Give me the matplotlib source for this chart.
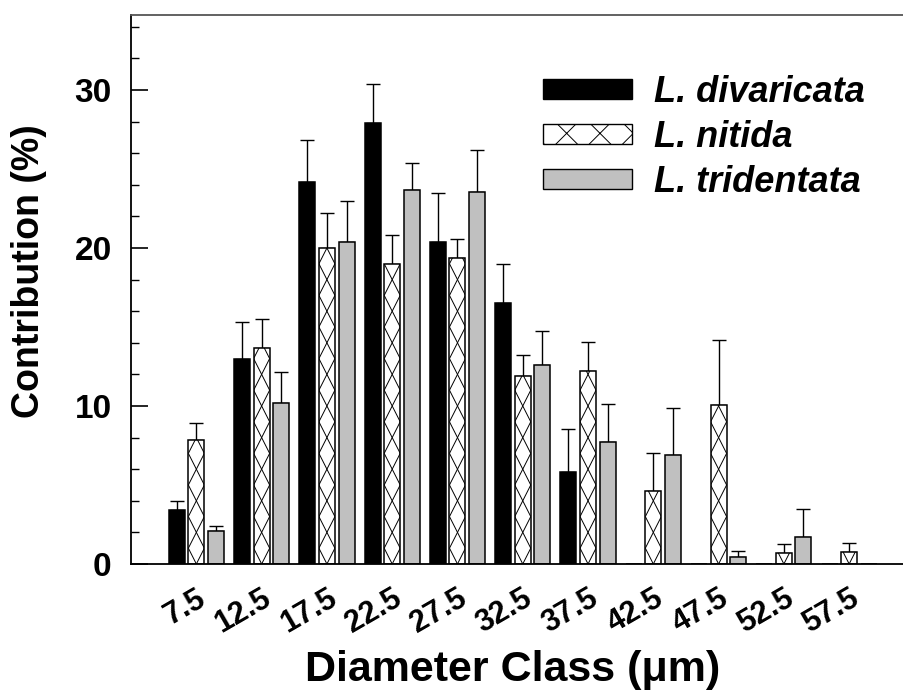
import matplotlib
matplotlib.use("Agg")
import matplotlib.pyplot as plt
from matplotlib.patches import Patch
from matplotlib.collections import LineCollection
from matplotlib.transforms import ScaledTranslation
import numpy as np

plt.rcParams["font.family"] = ["Liberation Sans", "DejaVu Sans"]
plt.rcParams["hatch.linewidth"] = 0.7

# diameter classes (µm) and mean contribution (%) with upper SE per species
classes = ["7.5", "12.5", "17.5", "22.5", "27.5", "32.5", "37.5", "42.5", "47.5", "52.5", "57.5"]
divaricata = [3.4, 13.0, 24.2, 27.9, 20.4, 16.5, 5.8, 0.0, 0.0, 0.0, 0.0]
divaricata_err = [0.6, 2.3, 2.65, 2.5, 3.1, 2.5, 2.75, 0.0, 0.0, 0.0, 0.0]
nitida = [7.85, 13.7, 20.0, 19.0, 19.35, 11.9, 12.2, 4.6, 10.05, 0.68, 0.74]
nitida_err = [1.1, 1.8, 2.2, 1.85, 1.2, 1.3, 1.85, 2.45, 4.15, 0.6, 0.6]
tridentata = [2.1, 10.2, 20.4, 23.7, 23.55, 12.6, 7.75, 6.9, 0.42, 1.7, 0.0]
tridentata_err = [0.3, 1.95, 2.6, 1.7, 2.65, 2.15, 2.4, 2.95, 0.4, 1.75, 0.0]

series = [
    ("L. divaricata", divaricata, divaricata_err, "black", False),
    ("L. nitida", nitida, nitida_err, "white", True),
    ("L. tridentata", tridentata, tridentata_err, "#c0c0c0", False),
]


def cross_hatch(ax, bar, cell=2.0):
    """Tall X pattern inside a bar, one cross per `cell` data units."""
    x0, x1 = bar.get_x(), bar.get_x() + bar.get_width()
    h = bar.get_height()
    segs = []
    for c in np.arange(-1.0, h + 1.0, cell):
        segs.append([(x0, c), (x1, c + cell)])
        segs.append([(x0, c + cell), (x1, c)])
    lc = LineCollection(segs, colors="black", linewidths=0.7, zorder=2.5)
    ax.add_collection(lc)
    lc.set_clip_path(bar)


fig = plt.figure(figsize=(9.04, 6.92), dpi=100)
ax = fig.add_axes([0.145, 0.185, 0.855, 0.7934])

x = np.arange(len(classes))
width, stride = 0.245, 0.3
handles = []
for k, (name, vals, errs, color, hatched) in enumerate(series):
    pos = x + (k - 1) * stride
    vals = np.array(vals)
    errs = np.array(errs)
    bars = ax.bar(pos, vals, width, color=color, edgecolor="black", linewidth=1.1, zorder=2)
    if hatched:
        for b in bars:
            if b.get_height() > 0:
                cross_hatch(ax, b)
    keep = vals > 0
    ax.errorbar(pos[keep], vals[keep], yerr=[np.zeros(keep.sum()), errs[keep]],
                fmt="none", ecolor="black", elinewidth=1.0, capsize=5, capthick=1.0, zorder=1)
    handles.append(Patch(facecolor=color, hatch="x" if hatched else None,
                         edgecolor="black", linewidth=1.0, label=name))

ax.set_xlim(-1, 10.84)
ax.set_ylim(0, 34.75)
ax.set_yticks([0, 10, 20, 30])
ax.set_yticks(np.arange(0, 35, 2), minor=True)
ax.set_xticks(x)
ax.set_xticklabels(classes, rotation=30, ha="right", rotation_mode="anchor",
                   fontsize=22, fontweight="bold")
shift = ScaledTranslation(-4 / 100, 0, fig.dpi_scale_trans)
for lab in ax.get_xticklabels():
    lab.set_transform(lab.get_transform() + shift)
ax.tick_params(axis="y", which="major", direction="in", length=12, width=1.2,
               labelsize=24, pad=14)
ax.tick_params(axis="y", which="minor", direction="in", length=6, width=1.0)
ax.tick_params(axis="x", length=0, pad=14)
for lab in ax.get_yticklabels():
    lab.set_fontweight("bold")

ax.spines["right"].set_visible(False)
for s in ("left", "bottom"):
    ax.spines[s].set_linewidth(1.3)
ax.spines["top"].set_linewidth(1.3)
ax.spines["top"].set_color("#555555")

ax.set_ylabel("Contribution (%)", fontsize=27, fontweight="bold")
ax.yaxis.set_label_coords(-0.132, 0.534)
ax.yaxis.label.set_va("center")
ax.set_xlabel("Diameter Class (\u03bcm)", fontsize=31, fontweight="bold")
ax.xaxis.set_label_coords(0.494, -0.193)
ax.xaxis.label.set_va("center")

ax.legend(handles=handles, loc="upper left", bbox_to_anchor=(0.6007, 0.892),
          bbox_transform=fig.transFigure, frameon=False,
          prop=dict(weight="bold", style="italic", size=26),
          handlelength=2.47, handleheight=0.47, handletextpad=0.6,
          labelspacing=0.28, borderpad=0, borderaxespad=0)

fig.savefig("out.png", dpi=100)
